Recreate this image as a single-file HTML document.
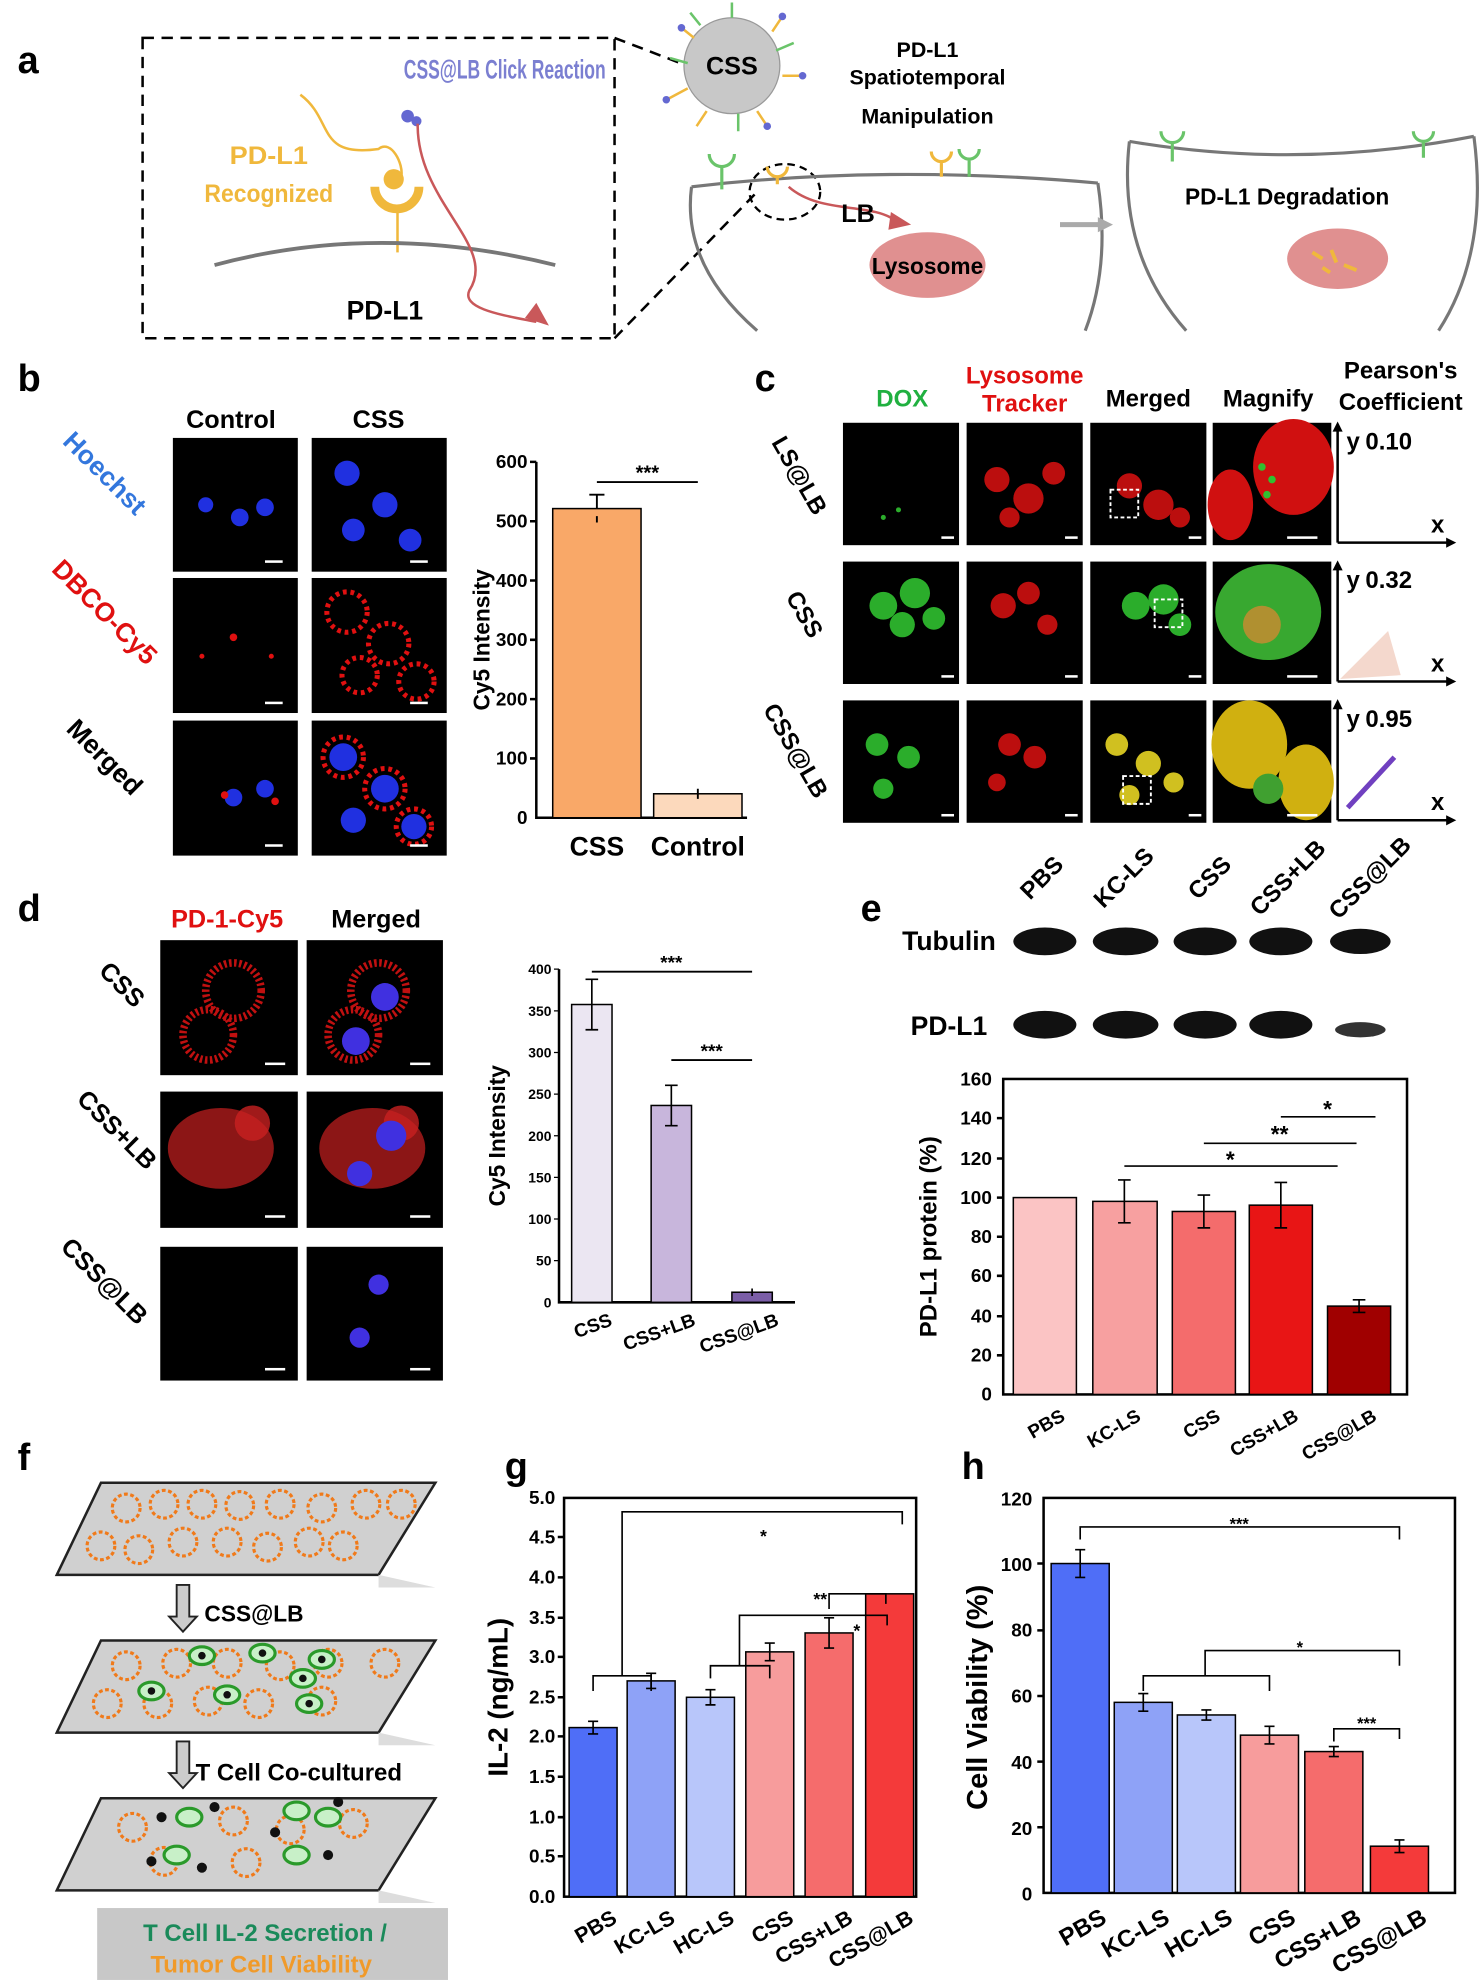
<!DOCTYPE html>
<html><head><meta charset="utf-8"><style>
html,body{margin:0;padding:0;background:#fff}
svg{display:block}
text{font-family:"Liberation Sans",Arial,sans-serif;font-weight:bold}
.t{font-size:15px}
.ax{stroke:#000;stroke-width:2;fill:none}
.b{stroke:#000;stroke-width:1.2}
</style></head><body>
<svg width="1484" height="1980" viewBox="0 0 1176 1569" xmlns="http://www.w3.org/2000/svg">
<g font-size="30"><text x="14" y="58">a</text><text x="14" y="310">b</text><text x="598" y="310">c</text><text x="14" y="730">d</text><text x="682" y="730">e</text><text x="14" y="1165">f</text><text x="400" y="1172">g</text><text x="762" y="1172">h</text></g>

<!-- Panel a -->
<rect x="113" y="30" width="374" height="238" fill="none" stroke="#000" stroke-width="2" stroke-dasharray="9,6"/>
<path d="M487 30 L560 58 M487 268 L602 150" stroke="#000" stroke-width="2" stroke-dasharray="9,6" fill="none"/>
<ellipse cx="622" cy="152" rx="28" ry="22" fill="none" stroke="#000" stroke-width="1.8" stroke-dasharray="6,4"/>
<text x="320" y="62" font-size="21" fill="#7b7fd1" textLength="160" lengthAdjust="spacingAndGlyphs">CSS@LB Click Reaction</text>
<text x="213" y="130" font-size="20" fill="#f0b83c" text-anchor="middle" textLength="62" lengthAdjust="spacingAndGlyphs">PD-L1</text>
<text x="213" y="160" font-size="20" fill="#f0b83c" text-anchor="middle" textLength="102" lengthAdjust="spacingAndGlyphs">Recognized</text>
<path d="M238 75 C265 95,250 125,300 118 C310 110,320 130,318 140" stroke="#f0b83c" stroke-width="2" fill="none"/>
<circle cx="312" cy="142" r="8" fill="#f0b83c"/>
<path d="M297 148 A17 17 0 0 0 332 148" stroke="#f0b83c" stroke-width="7" fill="none"/>
<line x1="315" y1="165" x2="315" y2="200" stroke="#f0b83c" stroke-width="2"/>
<circle cx="323" cy="92" r="5" fill="#6468d1"/><circle cx="330" cy="96" r="4" fill="#6468d1"/>
<path d="M170 210 Q300 175 440 210" stroke="#777" stroke-width="3" fill="none"/>
<text x="305" y="253" font-size="21" text-anchor="middle">PD-L1</text>
<path d="M331 98 C330 160,395 195,372 230 C365 245,400 250,425 255" stroke="#c9585a" stroke-width="2" fill="none"/>
<polygon points="416,252 435,258 425,240" fill="#c9585a"/>
<circle cx="580" cy="52" r="38" fill="#c8c8c8" stroke="#999"/>
<text x="580" y="59" font-size="20" text-anchor="middle">CSS</text>
<g stroke-width="2" fill="none">
<path d="M550 30 l-10 -8 M612 25 l8 -12 M620 60 l15 0 M545 70 l-15 8 M560 88 l-8 12 M600 88 l8 12" stroke="#f0b83c"/>
<path d="M580 14 l0 -12 M555 20 l-8 -10 M545 50 l-14 -4 M615 40 l14 -6 M585 90 l0 14" stroke="#6ac46a"/>
</g>
<g fill="#6468d1"><circle cx="540" cy="22" r="3"/><circle cx="620" cy="13" r="3"/><circle cx="636" cy="60" r="3"/><circle cx="528" cy="79" r="3"/><circle cx="608" cy="100" r="3"/></g>
<text x="735" y="45" font-size="17" text-anchor="middle">PD-L1</text>
<text x="735" y="67" font-size="17" text-anchor="middle">Spatiotemporal</text>
<text x="735" y="98" font-size="17" text-anchor="middle">Manipulation</text>
<path d="M548 148 Q700 130 870 145 M548 148 Q540 210 600 262 M870 145 Q880 210 860 262" stroke="#777" stroke-width="2.5" fill="none"/>
<g stroke="#6ac46a" stroke-width="2.5" fill="none"><path d="M562 122 A10 10 0 0 0 582 122 M572 132 L572 150 M760 118 A8 8 0 0 0 776 118 M768 126 L768 140"/></g>
<g stroke="#f0b83c" stroke-width="2.5" fill="none"><path d="M608 132 A8 8 0 0 0 624 132 M616 140 L616 146 M738 120 A8 8 0 0 0 754 120 M746 128 L746 140"/></g>
<path d="M625 148 C650 170,690 160,710 175" stroke="#c9585a" stroke-width="2" fill="none"/>
<polygon points="706,168 722,178 704,182" fill="#c9585a"/>
<text x="680" y="176" font-size="20" text-anchor="middle">LB</text>
<ellipse cx="735" cy="210" rx="46" ry="26" fill="#e09090"/>
<text x="735" y="217" font-size="18" text-anchor="middle">Lysosome</text>
<line x1="840" y1="178" x2="872" y2="178" stroke="#aaa" stroke-width="4"/><polygon points="870,172 882,178 870,184" fill="#aaa"/>
<path d="M895 112 Q1030 135 1168 108 M895 112 Q885 200 940 262 M1168 108 Q1180 200 1140 262" stroke="#777" stroke-width="2.5" fill="none"/>
<g stroke="#6ac46a" stroke-width="2.5" fill="none"><path d="M920 104 A9 9 0 0 0 938 104 M929 113 L929 128 M1120 104 A8 8 0 0 0 1136 104 M1128 112 L1128 125"/></g>
<text x="1020" y="162" font-size="18" text-anchor="middle">PD-L1 Degradation</text>
<ellipse cx="1060" cy="205" rx="40" ry="24" fill="#e09090"/>
<g stroke="#f0b83c" stroke-width="3"><path d="M1040 200 l8 5 M1055 198 l4 10 M1065 210 l10 4 M1048 212 l6 4"/></g>

<!-- Panel b -->
<text x="183" y="339" font-size="20" text-anchor="middle">Control</text>
<text x="300" y="339" font-size="20" text-anchor="middle">CSS</text>
<g fill="#000"><rect x="137" y="347" width="99" height="106"/><rect x="247" y="347" width="107" height="106"/><rect x="137" y="458" width="99" height="107"/><rect x="247" y="458" width="107" height="107"/><rect x="137" y="571" width="99" height="107"/><rect x="247" y="571" width="107" height="107"/></g>
<g fill="#2030e0"><circle cx="163" cy="400" r="6"/><circle cx="190" cy="410" r="7"/><circle cx="210" cy="402" r="7"/><circle cx="275" cy="375" r="10"/><circle cx="305" cy="400" r="10"/><circle cx="325" cy="428" r="9"/><circle cx="280" cy="420" r="9"/><circle cx="185" cy="632" r="7"/><circle cx="210" cy="625" r="7"/><circle cx="272" cy="600" r="11"/><circle cx="305" cy="625" r="11"/><circle cx="328" cy="655" r="10"/><circle cx="280" cy="650" r="10"/></g>
<g fill="none" stroke="#e01010" stroke-width="4" stroke-dasharray="3,3"><circle cx="275" cy="485" r="16"/><circle cx="308" cy="510" r="16"/><circle cx="330" cy="540" r="14"/><circle cx="285" cy="535" r="14"/><circle cx="272" cy="600" r="16"/><circle cx="305" cy="625" r="16"/><circle cx="328" cy="655" r="14"/></g>
<g fill="#e01010"><circle cx="160" cy="520" r="2"/><circle cx="185" cy="505" r="3"/><circle cx="215" cy="520" r="2"/><circle cx="178" cy="630" r="3"/><circle cx="218" cy="635" r="3"/></g>
<g fill="#fff"><rect x="210" y="444" width="14" height="2"/><rect x="325" y="444" width="14" height="2"/><rect x="210" y="556" width="14" height="2"/><rect x="325" y="556" width="14" height="2"/><rect x="210" y="669" width="14" height="2"/><rect x="325" y="669" width="14" height="2"/></g>
<text transform="translate(78,380) rotate(45)" font-size="21" fill="#3377dd" text-anchor="middle">Hoechst</text>
<text transform="translate(78,490) rotate(45)" font-size="21" fill="#e01010" text-anchor="middle">DBCO-Cy5</text>
<text transform="translate(78,605) rotate(45)" font-size="21" text-anchor="middle">Merged</text>
<path class="ax" d="M425 366 V648 H592"/>
<g class="t" text-anchor="end"><text x="418" y="653">0</text><text x="418" y="606">100</text><text x="418" y="559">200</text><text x="418" y="512">300</text><text x="418" y="465">400</text><text x="418" y="418">500</text><text x="418" y="371">600</text></g>
<path d="M425 601h-5M425 554h-5M425 507h-5M425 460h-5M425 413h-5M425 366h-5" stroke="#000" stroke-width="2"/>
<text transform="translate(388,507) rotate(-90)" font-size="18" text-anchor="middle">Cy5 Intensity</text>
<rect class="b" x="438" y="403" width="70" height="245" fill="#f9a868"/>
<rect class="b" x="518" y="629" width="70" height="19" fill="#fcd9bc"/>
<path d="M473 392V403M473 392h-6h12M473 414v-5M553 625v8" stroke="#000" stroke-width="1.5"/>
<line x1="473" y1="382" x2="553" y2="382" stroke="#000" stroke-width="1.5"/>
<text x="513" y="380" font-size="16" text-anchor="middle">***</text>
<text x="473" y="678" font-size="21" text-anchor="middle">CSS</text><text x="553" y="678" font-size="21" text-anchor="middle">Control</text>

<!-- Panel c -->
<text x="715" y="322" font-size="19" fill="#20b040" text-anchor="middle">DOX</text>
<text x="812" y="304" font-size="19" fill="#e01010" text-anchor="middle">Lysosome</text>
<text x="812" y="326" font-size="19" fill="#e01010" text-anchor="middle">Tracker</text>
<text x="910" y="322" font-size="19" text-anchor="middle">Merged</text>
<text x="1005" y="322" font-size="19" text-anchor="middle">Magnify</text>
<text x="1110" y="300" font-size="19" text-anchor="middle">Pearson's</text>
<text x="1110" y="325" font-size="19" text-anchor="middle">Coefficient</text>
<g fill="#000">
<rect x="668" y="335" width="92" height="97"/><rect x="766" y="335" width="92" height="97"/><rect x="864" y="335" width="92" height="97"/><rect x="961" y="335" width="94" height="97"/>
<rect x="668" y="445" width="92" height="97"/><rect x="766" y="445" width="92" height="97"/><rect x="864" y="445" width="92" height="97"/><rect x="961" y="445" width="94" height="97"/>
<rect x="668" y="555" width="92" height="97"/><rect x="766" y="555" width="92" height="97"/><rect x="864" y="555" width="92" height="97"/><rect x="961" y="555" width="94" height="97"/>
</g>
<g fill="#d01010"><ellipse cx="1025" cy="370" rx="32" ry="38"/><ellipse cx="975" cy="400" rx="18" ry="28"/></g>
<g fill="#30c030"><circle cx="1000" cy="370" r="3"/><circle cx="1008" cy="380" r="3"/><circle cx="1004" cy="392" r="3"/></g>
<g fill="#38a830"><ellipse cx="1005" cy="485" rx="42" ry="38"/></g><ellipse cx="1000" cy="495" rx="15" ry="15" fill="#b09030"/>
<g fill="#d0b010"><ellipse cx="990" cy="590" rx="30" ry="35"/><ellipse cx="1035" cy="620" rx="22" ry="30"/></g><circle cx="1005" cy="625" r="12" fill="#40a030"/>
<g fill="#d01010" opacity="0.9"><circle cx="790" cy="380" r="10"/><circle cx="815" cy="395" r="12"/><circle cx="835" cy="375" r="9"/><circle cx="800" cy="410" r="8"/><circle cx="895" cy="385" r="10"/><circle cx="918" cy="400" r="12"/><circle cx="935" cy="410" r="8"/><circle cx="795" cy="480" r="10"/><circle cx="815" cy="470" r="9"/><circle cx="830" cy="495" r="8"/><circle cx="800" cy="590" r="9"/><circle cx="820" cy="600" r="9"/><circle cx="790" cy="620" r="7"/></g>
<g fill="#30c030" opacity="0.9"><circle cx="700" cy="480" r="11"/><circle cx="725" cy="470" r="12"/><circle cx="715" cy="495" r="10"/><circle cx="740" cy="490" r="9"/><circle cx="900" cy="480" r="11"/><circle cx="922" cy="475" r="12"/><circle cx="935" cy="495" r="9"/><circle cx="695" cy="590" r="9"/><circle cx="720" cy="600" r="9"/><circle cx="700" cy="625" r="8"/><circle cx="700" cy="410" r="2"/><circle cx="712" cy="404" r="2"/></g>
<g fill="#d0c020"><circle cx="885" cy="590" r="9"/><circle cx="910" cy="605" r="10"/><circle cx="930" cy="620" r="8"/><circle cx="895" cy="630" r="8"/></g>
<g fill="none" stroke="#fff" stroke-dasharray="3,2" stroke-width="1.5"><rect x="880" y="388" width="22" height="22"/><rect x="915" y="475" width="22" height="22"/><rect x="890" y="615" width="22" height="22"/></g>
<g fill="#fff"><rect x="746" y="425" width="10" height="2"/><rect x="844" y="425" width="10" height="2"/><rect x="942" y="425" width="10" height="2"/><rect x="746" y="535" width="10" height="2"/><rect x="844" y="535" width="10" height="2"/><rect x="942" y="535" width="10" height="2"/><rect x="746" y="645" width="10" height="2"/><rect x="844" y="645" width="10" height="2"/><rect x="942" y="645" width="10" height="2"/><rect x="1020" y="425" width="24" height="2"/><rect x="1020" y="535" width="24" height="2"/><rect x="1020" y="645" width="24" height="2"/></g>
<g stroke="#000" stroke-width="2"><path d="M1060 430V340M1060 430H1148M1060 540V450M1060 540H1148M1060 650V560M1060 650H1148"/></g>
<g fill="#000"><polygon points="1056,342 1060,334 1064,342"/><polygon points="1146,426 1154,430 1146,434"/><polygon points="1056,452 1060,444 1064,452"/><polygon points="1146,536 1154,540 1146,544"/><polygon points="1056,562 1060,554 1064,562"/><polygon points="1146,646 1154,650 1146,654"/></g>
<g font-size="19"><text x="1067" y="356">y</text><text x="1082" y="356">0.10</text><text x="1134" y="422">x</text><text x="1067" y="466">y</text><text x="1082" y="466">0.32</text><text x="1134" y="532">x</text><text x="1067" y="576">y</text><text x="1082" y="576">0.95</text><text x="1134" y="642">x</text></g>
<path d="M1062 538 L1100 500 L1110 535 Z" fill="#f0c8b8" opacity="0.7"/>
<line x1="1068" y1="640" x2="1105" y2="600" stroke="#7040c0" stroke-width="4"/>
<text transform="translate(628,380) rotate(60)" font-size="19" text-anchor="middle">LS@LB</text>
<text transform="translate(632,490) rotate(60)" font-size="19" text-anchor="middle">CSS</text>
<text transform="translate(625,598) rotate(60)" font-size="19" text-anchor="middle">CSS@LB</text>

<!-- Panel d -->
<text x="180" y="735" font-size="20" fill="#e01010" text-anchor="middle">PD-1-Cy5</text>
<text x="298" y="735" font-size="20" text-anchor="middle">Merged</text>
<g fill="#000"><rect x="127" y="745" width="109" height="107"/><rect x="243" y="745" width="108" height="107"/><rect x="127" y="865" width="109" height="108"/><rect x="243" y="865" width="108" height="108"/><rect x="127" y="988" width="109" height="106"/><rect x="243" y="988" width="108" height="106"/></g>
<g fill="none" stroke="#c01010" stroke-width="6" stroke-dasharray="2,2"><circle cx="185" cy="785" r="22"/><circle cx="165" cy="820" r="20"/><circle cx="300" cy="785" r="22"/><circle cx="280" cy="820" r="20"/></g>
<g fill="#c82020"><ellipse cx="175" cy="910" rx="42" ry="32" opacity="0.7"/><ellipse cx="295" cy="910" rx="42" ry="32" opacity="0.7"/><circle cx="200" cy="890" r="14" opacity="0.8"/><circle cx="318" cy="890" r="14" opacity="0.8"/></g>
<g fill="#4030e0"><circle cx="305" cy="790" r="11"/><circle cx="282" cy="825" r="11"/><circle cx="310" cy="900" r="12"/><circle cx="285" cy="930" r="10"/><circle cx="300" cy="1018" r="8"/><circle cx="285" cy="1060" r="8"/></g>
<g fill="#fff"><rect x="210" y="842" width="16" height="2"/><rect x="325" y="842" width="16" height="2"/><rect x="210" y="963" width="16" height="2"/><rect x="325" y="963" width="16" height="2"/><rect x="210" y="1084" width="16" height="2"/><rect x="325" y="1084" width="16" height="2"/></g>
<text transform="translate(92,785) rotate(45)" font-size="20" text-anchor="middle">CSS</text>
<text transform="translate(88,900) rotate(45)" font-size="20" text-anchor="middle">CSS+LB</text>
<text transform="translate(78,1020) rotate(45)" font-size="20" text-anchor="middle">CSS@LB</text>
<path class="ax" d="M443 768 V1032 H630" stroke-width="1.5"/>
<g font-size="11" text-anchor="end" font-weight="normal"><text x="437" y="1036">0</text><text x="437" y="1003">50</text><text x="437" y="970">100</text><text x="437" y="937">150</text><text x="437" y="904">200</text><text x="437" y="871">250</text><text x="437" y="838">300</text><text x="437" y="805">350</text><text x="437" y="772">400</text></g>
<path d="M443 999h-4M443 966h-4M443 933h-4M443 900h-4M443 867h-4M443 834h-4M443 801h-4M443 768h-4" stroke="#000"/>
<text transform="translate(400,900) rotate(-90)" font-size="18" text-anchor="middle">Cy5 Intensity</text>
<rect class="b" x="453" y="796" width="32" height="236" fill="#ebe6f2"/>
<rect class="b" x="516" y="876" width="32" height="156" fill="#c8b6dc"/>
<rect class="b" x="580" y="1024" width="32" height="8" fill="#7b5ea7"/>
<path d="M469 776v40M464 776h10M464 816h10M532 860v32M527 860h10M527 892h10M596 1021v6" stroke="#000" stroke-width="1.3"/>
<line x1="469" y1="770" x2="596" y2="770" stroke="#000" stroke-width="1.5"/><text x="532" y="768" font-size="15" text-anchor="middle">***</text>
<line x1="532" y1="840" x2="596" y2="840" stroke="#000" stroke-width="1.5"/><text x="564" y="838" font-size="15" text-anchor="middle">***</text>
<g font-size="15" text-anchor="end"><text transform="translate(486,1050) rotate(-20)">CSS</text><text transform="translate(552,1050) rotate(-20)">CSS+LB</text><text transform="translate(618,1050) rotate(-20)">CSS@LB</text></g>

<!-- Panel e -->
<g font-size="19" text-anchor="middle"><text transform="translate(830,700) rotate(-45)">PBS</text><text transform="translate(895,700) rotate(-45)">KC-LS</text><text transform="translate(963,700) rotate(-45)">CSS</text><text transform="translate(1025,700) rotate(-45)">CSS+LB</text><text transform="translate(1090,700) rotate(-45)">CSS@LB</text></g>
<text x="752" y="753" font-size="21" text-anchor="middle">Tubulin</text>
<text x="752" y="820" font-size="21" text-anchor="middle">PD-L1</text>
<g fill="#111"><ellipse cx="828" cy="746" rx="25" ry="11"/><ellipse cx="892" cy="746" rx="26" ry="11"/><ellipse cx="955" cy="746" rx="25" ry="11"/><ellipse cx="1015" cy="746" rx="25" ry="11"/><ellipse cx="1078" cy="746" rx="24" ry="10"/>
<ellipse cx="828" cy="812" rx="25" ry="11"/><ellipse cx="892" cy="812" rx="26" ry="11"/><ellipse cx="955" cy="812" rx="25" ry="11"/><ellipse cx="1015" cy="812" rx="25" ry="11"/><ellipse cx="1078" cy="816" rx="20" ry="6" fill="#333"/></g>
<rect x="795" y="855" width="320" height="250" fill="none" stroke="#000" stroke-width="2"/>
<g class="t" text-anchor="end"><text x="786" y="1110">0</text><text x="786" y="1079">20</text><text x="786" y="1048">40</text><text x="786" y="1016">60</text><text x="786" y="985">80</text><text x="786" y="954">100</text><text x="786" y="923">120</text><text x="786" y="891">140</text><text x="786" y="860">160</text></g>
<path d="M795 1074h-5M795 1043h-5M795 1011h-5M795 980h-5M795 949h-5M795 918h-5M795 886h-5" stroke="#000" stroke-width="2"/>
<text transform="translate(742,980) rotate(-90)" font-size="19" text-anchor="middle">PD-L1 protein (%)</text>
<rect class="b" x="803" y="949" width="50" height="156" fill="#fbc4c4"/>
<rect class="b" x="866" y="952" width="51" height="153" fill="#f7a0a0"/>
<rect class="b" x="929" y="960" width="50" height="145" fill="#f46c6c"/>
<rect class="b" x="990" y="955" width="50" height="150" fill="#e81515"/>
<rect class="b" x="1052" y="1035" width="50" height="70" fill="#a00000"/>
<path d="M891 935v34M886 935h10M886 969h10M954 947v26M949 947h10M949 973h10M1015 937v36M1010 937h10M1010 973h10M1077 1030v10M1072 1030h10M1072 1040h10" stroke="#000" stroke-width="1.3"/>
<line x1="891" y1="924" x2="1060" y2="924" stroke="#000" stroke-width="1.3"/><text x="975" y="925" font-size="18" text-anchor="middle">*</text>
<line x1="954" y1="906" x2="1075" y2="906" stroke="#000" stroke-width="1.3"/><text x="1014" y="905" font-size="18" text-anchor="middle">**</text>
<line x1="1015" y1="885" x2="1090" y2="885" stroke="#000" stroke-width="1.3"/><text x="1052" y="885" font-size="18" text-anchor="middle">*</text>
<g font-size="15" text-anchor="end"><text transform="translate(845,1125) rotate(-30)">PBS</text><text transform="translate(905,1125) rotate(-30)">KC-LS</text><text transform="translate(968,1125) rotate(-30)">CSS</text><text transform="translate(1030,1125) rotate(-30)">CSS+LB</text><text transform="translate(1092,1125) rotate(-30)">CSS@LB</text></g>

<!-- Panel f -->
<g stroke="#222" stroke-width="2" fill="#d0d0d0">
<path d="M80 1175 H345 L300 1248 H45 Z"/><path d="M80 1300 H345 L300 1373 H45 Z"/><path d="M80 1425 H345 L300 1498 H45 Z"/>
</g>
<g fill="#ddd"><path d="M300 1248 L345 1258 H300Z M300 1373 L345 1383 H300Z M300 1498 L345 1508 H300Z"/></g>
<g fill="none" stroke="#f07a1a" stroke-width="2.5" stroke-dasharray="3,2">
<circle cx="100" cy="1195" r="11"/><circle cx="130" cy="1192" r="11"/><circle cx="160" cy="1192" r="11"/><circle cx="190" cy="1193" r="11"/><circle cx="222" cy="1192" r="11"/><circle cx="255" cy="1195" r="11"/><circle cx="290" cy="1192" r="11"/><circle cx="318" cy="1192" r="11"/>
<circle cx="80" cy="1225" r="11"/><circle cx="110" cy="1228" r="11"/><circle cx="145" cy="1222" r="11"/><circle cx="180" cy="1222" r="11"/><circle cx="212" cy="1226" r="11"/><circle cx="245" cy="1222" r="11"/><circle cx="272" cy="1225" r="11"/>
<circle cx="100" cy="1320" r="11"/><circle cx="140" cy="1318" r="11"/><circle cx="180" cy="1318" r="11"/><circle cx="222" cy="1320" r="11"/><circle cx="260" cy="1318" r="11"/><circle cx="305" cy="1318" r="11"/><circle cx="85" cy="1350" r="11"/><circle cx="125" cy="1350" r="11"/><circle cx="165" cy="1348" r="11"/><circle cx="205" cy="1350" r="11"/><circle cx="255" cy="1348" r="11"/>
<circle cx="105" cy="1448" r="11"/><circle cx="185" cy="1443" r="11"/><circle cx="230" cy="1450" r="11"/><circle cx="280" cy="1445" r="11"/><circle cx="130" cy="1475" r="11"/><circle cx="195" cy="1476" r="11"/></g>
<g fill="#c8f0c8" stroke="#2a9a2a" stroke-width="2.5"><ellipse cx="160" cy="1312" rx="10" ry="7"/><ellipse cx="208" cy="1310" rx="10" ry="7"/><ellipse cx="255" cy="1315" rx="10" ry="7"/><ellipse cx="120" cy="1340" rx="10" ry="7"/><ellipse cx="180" cy="1343" rx="10" ry="7"/><ellipse cx="245" cy="1350" rx="10" ry="7"/><ellipse cx="240" cy="1330" rx="10" ry="7"/>
<ellipse cx="150" cy="1440" rx="10" ry="7"/><ellipse cx="235" cy="1435" rx="10" ry="7"/><ellipse cx="260" cy="1440" rx="10" ry="7"/><ellipse cx="140" cy="1470" rx="10" ry="7"/><ellipse cx="235" cy="1470" rx="10" ry="7"/></g>
<g fill="#111"><circle cx="160" cy="1312" r="3"/><circle cx="208" cy="1310" r="3"/><circle cx="255" cy="1315" r="3"/><circle cx="120" cy="1340" r="3"/><circle cx="180" cy="1343" r="3"/><circle cx="245" cy="1350" r="3"/><circle cx="240" cy="1330" r="3"/><circle cx="128" cy="1440" r="4"/><circle cx="170" cy="1432" r="4"/><circle cx="218" cy="1452" r="4"/><circle cx="268" cy="1428" r="4"/><circle cx="120" cy="1475" r="4"/><circle cx="160" cy="1480" r="4"/><circle cx="260" cy="1470" r="4"/></g>
<g fill="#ccc" stroke="#222" stroke-width="1.5"><path d="M140 1256 h10 v25 h6 l-11 12 l-11 -12 h6 Z"/><path d="M140 1380 h10 v25 h6 l-11 12 l-11 -12 h6 Z"/></g>
<text x="162" y="1285" font-size="18">CSS@LB</text>
<text x="155" y="1411" font-size="19">T Cell Co-cultured</text>
<rect x="77" y="1512" width="278" height="57" fill="#c8c8c8"/>
<text x="210" y="1538" font-size="19" fill="#1a8a5a" text-anchor="middle">T Cell IL-2 Secretion /</text>
<text x="207" y="1563" font-size="19" fill="#f09a2a" text-anchor="middle">Tumor Cell Viability</text>

<!-- Panel g -->
<rect x="447" y="1187" width="279" height="316" fill="none" stroke="#000" stroke-width="2"/>
<g class="t" text-anchor="end"><text x="440" y="1508">0.0</text><text x="440" y="1476">0.5</text><text x="440" y="1445">1.0</text><text x="440" y="1413">1.5</text><text x="440" y="1381">2.0</text><text x="440" y="1350">2.5</text><text x="440" y="1318">3.0</text><text x="440" y="1287">3.5</text><text x="440" y="1255">4.0</text><text x="440" y="1223">4.5</text><text x="440" y="1192">5.0</text></g>
<path d="M447 1471h-5M447 1440h-5M447 1408h-5M447 1376h-5M447 1345h-5M447 1313h-5M447 1282h-5M447 1250h-5M447 1218h-5" stroke="#000" stroke-width="2"/>
<text transform="translate(402,1345) rotate(-90)" font-size="22" text-anchor="middle">IL-2 (ng/mL)</text>
<rect class="b" x="451" y="1369" width="38" height="134" fill="#4f6ef7"/>
<rect class="b" x="497" y="1332" width="38" height="171" fill="#8ea2f7"/>
<rect class="b" x="544" y="1345" width="38" height="158" fill="#b8c6fa"/>
<rect class="b" x="591" y="1309" width="38" height="194" fill="#f79c9c"/>
<rect class="b" x="638" y="1294" width="38" height="209" fill="#f56c6c"/>
<rect class="b" x="686" y="1263" width="38" height="240" fill="#f43a3a"/>
<path d="M470 1364v10M466 1364h8M466 1374h8M516 1326v12M512 1326h8M512 1338h8M563 1339v12M559 1339h8M559 1351h8M610 1302v14M606 1302h8M606 1316h8M657 1282v24M653 1282h8M653 1306h8" stroke="#000" stroke-width="1.3"/>
<g fill="none" stroke="#000" stroke-width="1.3">
<path d="M470 1340v-12h46v12M493 1328v-130h222v10"/>
<path d="M563 1330v-10h47v10M586 1320v-40h117v8"/>
<path d="M657 1275v-12h45v8"/>
</g>
<g font-size="14" text-anchor="middle"><text x="605" y="1222">*</text><text x="650" y="1272">**</text><text x="679" y="1297">*</text></g>
<g font-size="17" text-anchor="end"><text transform="translate(490,1523) rotate(-30)">PBS</text><text transform="translate(536,1523) rotate(-30)">KC-LS</text><text transform="translate(583,1523) rotate(-30)">HC-LS</text><text transform="translate(630,1523) rotate(-30)">CSS</text><text transform="translate(677,1523) rotate(-30)">CSS+LB</text><text transform="translate(725,1523) rotate(-30)">CSS@LB</text></g>

<!-- Panel h -->
<rect x="827" y="1187" width="326" height="313" fill="none" stroke="#000" stroke-width="2"/>
<g class="t" text-anchor="end" font-size="17"><text x="818" y="1506">0</text><text x="818" y="1454">20</text><text x="818" y="1402">40</text><text x="818" y="1349">60</text><text x="818" y="1297">80</text><text x="818" y="1245">100</text><text x="818" y="1193">120</text></g>
<path d="M827 1448h-5M827 1396h-5M827 1344h-5M827 1292h-5M827 1239h-5" stroke="#000" stroke-width="2"/>
<text transform="translate(782,1345) rotate(-90)" font-size="23" text-anchor="middle">Cell Viability (%)</text>
<rect class="b" x="833" y="1239" width="46" height="261" fill="#4f6ef7"/>
<rect class="b" x="883" y="1349" width="46" height="151" fill="#8ea2f7"/>
<rect class="b" x="933" y="1359" width="46" height="141" fill="#b8c6fa"/>
<rect class="b" x="983" y="1375" width="46" height="125" fill="#f79c9c"/>
<rect class="b" x="1034" y="1388" width="46" height="112" fill="#f56c6c"/>
<rect class="b" x="1086" y="1463" width="46" height="37" fill="#f43a3a"/>
<path d="M856 1228v22M852 1228h8M852 1250h8M906 1342v14M902 1342h8M902 1356h8M956 1355v8M952 1355h8M952 1363h8M1006 1368v14M1002 1368h8M1002 1382h8M1057 1384v8M1053 1384h8M1053 1392h8M1109 1458v10M1105 1458h8M1105 1468h8" stroke="#000" stroke-width="1.3"/>
<g fill="none" stroke="#000" stroke-width="1.3">
<path d="M856 1220v-10h253v10"/>
<path d="M906 1340v-12h100v12M955 1328v-20h154v12"/>
<path d="M1057 1380v-10h52v8"/>
</g>
<g font-size="13" text-anchor="middle"><text x="982" y="1212">***</text><text x="1030" y="1310">*</text><text x="1083" y="1370">***</text></g>
<g font-size="19" text-anchor="end"><text transform="translate(878,1523) rotate(-30)">PBS</text><text transform="translate(928,1523) rotate(-30)">KC-LS</text><text transform="translate(978,1523) rotate(-30)">HC-LS</text><text transform="translate(1028,1523) rotate(-30)">CSS</text><text transform="translate(1080,1523) rotate(-30)">CSS+LB</text><text transform="translate(1132,1523) rotate(-30)">CSS@LB</text></g>
</svg>
</body></html>
